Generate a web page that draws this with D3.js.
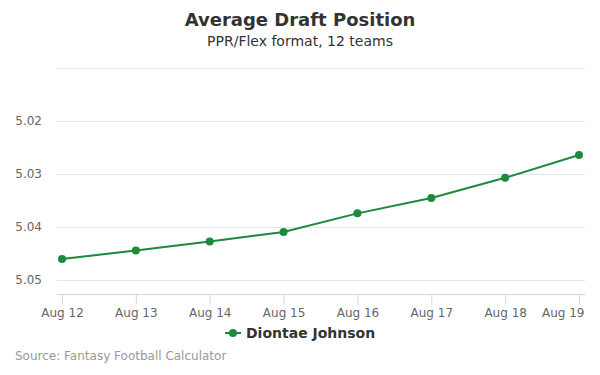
<!DOCTYPE html>
<html>
<head>
<meta charset="utf-8">
<script src="https://cdn.jsdelivr.net/npm/d3@7"></script>
<style>
  body { margin: 0; background: #fff; }
  svg { font-family: "DejaVu Sans", sans-serif; }
</style>
</head>
<body>
<div id="chart"></div>
<script>
var dates = ["Aug 12", "Aug 13", "Aug 14", "Aug 15", "Aug 16", "Aug 17", "Aug 18", "Aug 19"];
var adpValues = [5.0460, 5.0444, 5.0427, 5.0409, 5.0374, 5.0345, 5.0307, 5.0264];
var yTicks = [5.01, 5.02, 5.03, 5.04, 5.05];
var playerName = "Diontae Johnson";

var width = 600;
var height = 375;
var lineColor = "#1b8a3c";

var svg = d3.select("#chart").append("svg")
    .attr("width", width)
    .attr("height", height);

var x = d3.scalePoint()
    .domain(dates)
    .range([62, 579]);

// reversed axis: smaller pick on top
var y = d3.scaleLinear()
    .domain([5.01, 5.0526])
    .range([68, 294]);

// gridlines
svg.append("g")
    .selectAll("line")
    .data(yTicks)
    .enter().append("line")
    .attr("x1", 57)
    .attr("x2", 585)
    .attr("y1", d => Math.round(y(d)) + 0.5)
    .attr("y2", d => Math.round(y(d)) + 0.5)
    .style("stroke", "#e6e6e6")
    .style("stroke-width", 1);

// y labels (top one hidden like the original)
svg.append("g")
    .selectAll("text")
    .data(yTicks.slice(1))
    .enter().append("text")
    .attr("x", 42)
    .attr("y", d => y(d) + 4)
    .attr("text-anchor", "end")
    .style("font-size", "12px")
    .style("fill", "#666")
    .text(d => d.toFixed(2));

// x axis
var xAxis = d3.axisBottom(x).tickSize(10).tickPadding(4);
var gx = svg.append("g")
    .attr("transform", "translate(0," + 294.5 + ")")
    .call(xAxis);
gx.select(".domain").remove();
gx.selectAll(".tick line").style("stroke", "#ccd6eb");
gx.selectAll(".tick text")
    .style("font-size", "12px")
    .style("fill", "#666")
    .style("font-family", "DejaVu Sans, sans-serif");
// last label pulled inside the chart
gx.selectAll(".tick text")
    .filter(d => d === dates[dates.length - 1])
    .attr("text-anchor", "end")
    .attr("x", 5);
svg.append("line")
    .attr("x1", 57).attr("x2", 585)
    .attr("y1", 294.5).attr("y2", 294.5)
    .style("stroke", "#ccd6eb");

// series
var data = dates.map((d, i) => ({ date: d, value: adpValues[i] }));

var line = d3.line()
    .x(d => x(d.date))
    .y(d => y(d.value));

svg.append("path")
    .datum(data)
    .attr("d", line)
    .style("fill", "none")
    .style("stroke", lineColor)
    .style("stroke-width", 2);

svg.append("g")
    .selectAll("circle")
    .data(data)
    .enter().append("circle")
    .attr("cx", d => x(d.date))
    .attr("cy", d => y(d.value))
    .attr("r", 4)
    .style("fill", lineColor);

// titles
svg.append("text")
    .attr("x", 300).attr("y", 26)
    .attr("text-anchor", "middle")
    .style("font-size", "18px")
    .style("font-weight", "bold")
    .style("fill", "#333")
    .text("Average Draft Position");

svg.append("text")
    .attr("x", 300).attr("y", 46)
    .attr("text-anchor", "middle")
    .style("font-size", "14px")
    .style("fill", "#333")
    .text("PPR/Flex format, 12 teams");

// legend
var legend = svg.append("g").attr("transform", "translate(225,333)");
legend.append("line")
    .attr("x1", 0).attr("x2", 16)
    .style("stroke", lineColor)
    .style("stroke-width", 2);
legend.append("circle")
    .attr("cx", 8).attr("r", 4)
    .style("fill", lineColor);
legend.append("text")
    .attr("x", 21).attr("y", 5)
    .style("font-size", "14px")
    .style("font-weight", "bold")
    .style("fill", "#333")
    .text(playerName);

// credits
svg.append("text")
    .attr("x", 15).attr("y", 360)
    .style("font-size", "12px")
    .style("fill", "#999")
    .text("Source: Fantasy Football Calculator");
</script>
</body>
</html>
